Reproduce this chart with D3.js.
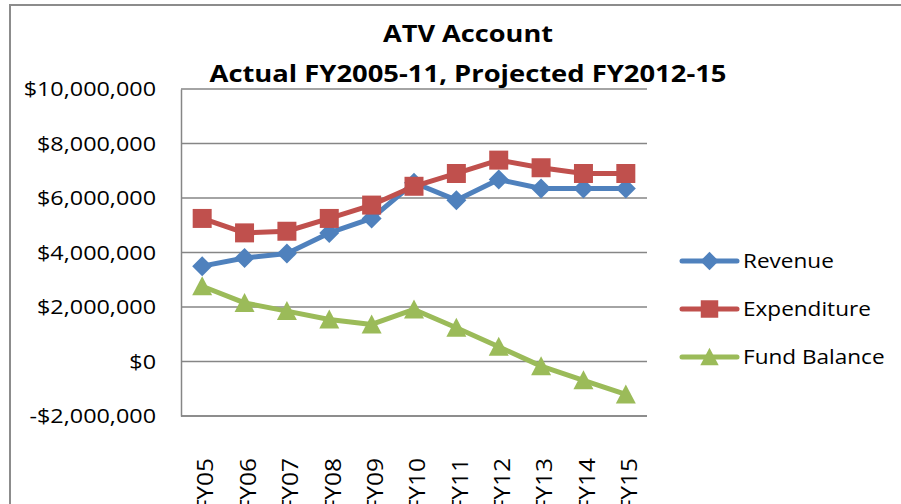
<!DOCTYPE html>
<html>
<head>
<meta charset="utf-8">
<script src="https://cdn.jsdelivr.net/npm/d3@7"></script>
<style>
  body { margin: 0; background: #fff; }
  svg { display: block; }
  text { font-family: "Open Sans", "Noto Sans", sans-serif; fill: #000; }
</style>
</head>
<body>
<script>
// chart data
const years = ["FY05", "FY06", "FY07", "FY08", "FY09", "FY10", "FY11", "FY12", "FY13", "FY14", "FY15"];
const revenue = [3500000, 3800000, 3960000, 4720000, 5250000, 6560000, 5920000, 6680000, 6350000, 6350000, 6350000];
const expenditure = [5250000, 4720000, 4780000, 5250000, 5740000, 6430000, 6900000, 7390000, 7110000, 6900000, 6900000];
const fundBalance = [2760000, 2150000, 1850000, 1540000, 1360000, 1910000, 1240000, 540000, -170000, -690000, -1210000];
const yTicks = [-2000000, 0, 2000000, 4000000, 6000000, 8000000, 10000000];
const seriesNames = ["Revenue", "Expenditure", "Fund Balance"];

const width = 901, height = 504;
const plot = { left: 181, right: 647, top: 89, bottom: 416 };

// marker shapes, Excel style (roughly 19-20px boxes)
const diamond = "M0,-10L10,0L0,10L-10,0Z";
const square = "M-9.5,-9.5H9.5V9.5H-9.5Z";
const triangle = "M0,-10L10,9L-10,9Z";

const series = [
  { name: seriesNames[0], values: revenue, color: "#4F81BD", marker: diamond },
  { name: seriesNames[1], values: expenditure, color: "#C0504D", marker: square },
  { name: seriesNames[2], values: fundBalance, color: "#9BBB59", marker: triangle }
];

// the original font is drawn wider than Open Sans, so stretch text a bit
function stretch(sel, factor) {
  sel.each(function () {
    const len = this.getComputedTextLength();
    d3.select(this)
      .attr("textLength", len * factor)
      .attr("lengthAdjust", "spacingAndGlyphs");
  });
}

const svg = d3.select("body").append("svg")
  .attr("width", width)
  .attr("height", height);

// outer chart border (runs off the right and bottom of the picture)
svg.append("rect")
  .attr("x", 10).attr("y", 5)
  .attr("width", width + 20).attr("height", height + 20)
  .attr("fill", "#fff")
  .attr("stroke", "#8c8c8c")
  .attr("stroke-width", 2);

const x = d3.scalePoint()
  .domain(years)
  .range([plot.left, plot.right])
  .padding(0.5);

const y = d3.scaleLinear()
  .domain([-2000000, 10000000])
  .range([plot.bottom, plot.top]);

const fmt = v => (v < 0 ? "-$" : "$") + d3.format(",")(Math.abs(v));

// gridlines
svg.append("g")
  .selectAll("line")
  .data(yTicks)
  .join("line")
  .attr("x1", plot.left).attr("x2", plot.right)
  .attr("y1", d => y(d)).attr("y2", d => y(d))
  .attr("stroke", "#868686")
  .attr("stroke-width", 1.3);

// y axis
const yAxis = svg.append("g")
  .attr("transform", `translate(${plot.left},0)`)
  .call(d3.axisLeft(y).tickValues(yTicks).tickFormat(fmt).tickSize(0).tickPadding(25));
yAxis.select(".domain").attr("stroke", "#868686").attr("stroke-width", 1.5);
yAxis.selectAll("text")
  .style("font-family", "'Open Sans', sans-serif")
  .style("font-size", "20.5px")
  .attr("fill", "#000")
  .call(stretch, 1.14);

// x axis
const xAxis = svg.append("g")
  .attr("transform", `translate(0,${plot.bottom})`)
  .call(d3.axisBottom(x).tickSize(0));
xAxis.select(".domain")
  .attr("d", `M${plot.left},0H${plot.right}`)
  .attr("stroke", "#868686").attr("stroke-width", 1.5);
xAxis.selectAll("text")
  .style("font-family", "'Open Sans', sans-serif")
  .style("font-size", "21.5px")
  .attr("fill", "#000")
  .attr("text-anchor", "end")
  .attr("dy", "0.36em")
  .attr("transform", "translate(0,42) rotate(-90)")
  .call(stretch, 1.14);

// lines + markers
const line = d3.line()
  .x((d, i) => x(years[i]))
  .y(d => y(d));

series.forEach(s => {
  svg.append("path")
    .datum(s.values)
    .attr("d", line)
    .attr("fill", "none")
    .attr("stroke", s.color)
    .attr("stroke-width", 5)
    .attr("stroke-linejoin", "round");

  svg.append("g")
    .selectAll("path")
    .data(s.values)
    .join("path")
    .attr("d", s.marker)
    .attr("transform", (d, i) => `translate(${x(years[i])},${y(d)})`)
    .attr("fill", s.color);
});

// legend
const legend = svg.append("g").attr("transform", "translate(682,261)");
series.forEach((s, i) => {
  const g = legend.append("g").attr("transform", `translate(0,${i * 48})`);
  g.append("line")
    .attr("x1", 0).attr("x2", 55)
    .attr("stroke", s.color)
    .attr("stroke-width", 5)
    .attr("stroke-linecap", "round");
  g.append("path")
    .attr("d", s.marker)
    .attr("transform", "translate(27.5,0) scale(0.92)")
    .attr("fill", s.color);
  g.append("text")
    .attr("x", 61)
    .attr("dy", "0.35em")
    .style("font-size", "20.5px")
    .text(s.name)
    .call(stretch, 1.1);
});

// titles
svg.append("text")
  .attr("x", 468).attr("y", 42)
  .attr("text-anchor", "middle")
  .style("font-size", "24px")
  .style("font-weight", "bold")
  .attr("textLength", 170)
  .attr("lengthAdjust", "spacingAndGlyphs")
  .text("ATV Account");

svg.append("text")
  .attr("x", 468).attr("y", 82)
  .attr("text-anchor", "middle")
  .style("font-size", "24px")
  .style("font-weight", "bold")
  .attr("textLength", 517)
  .attr("lengthAdjust", "spacingAndGlyphs")
  .text("Actual FY2005-11, Projected FY2012-15");
</script>
</body>
</html>
